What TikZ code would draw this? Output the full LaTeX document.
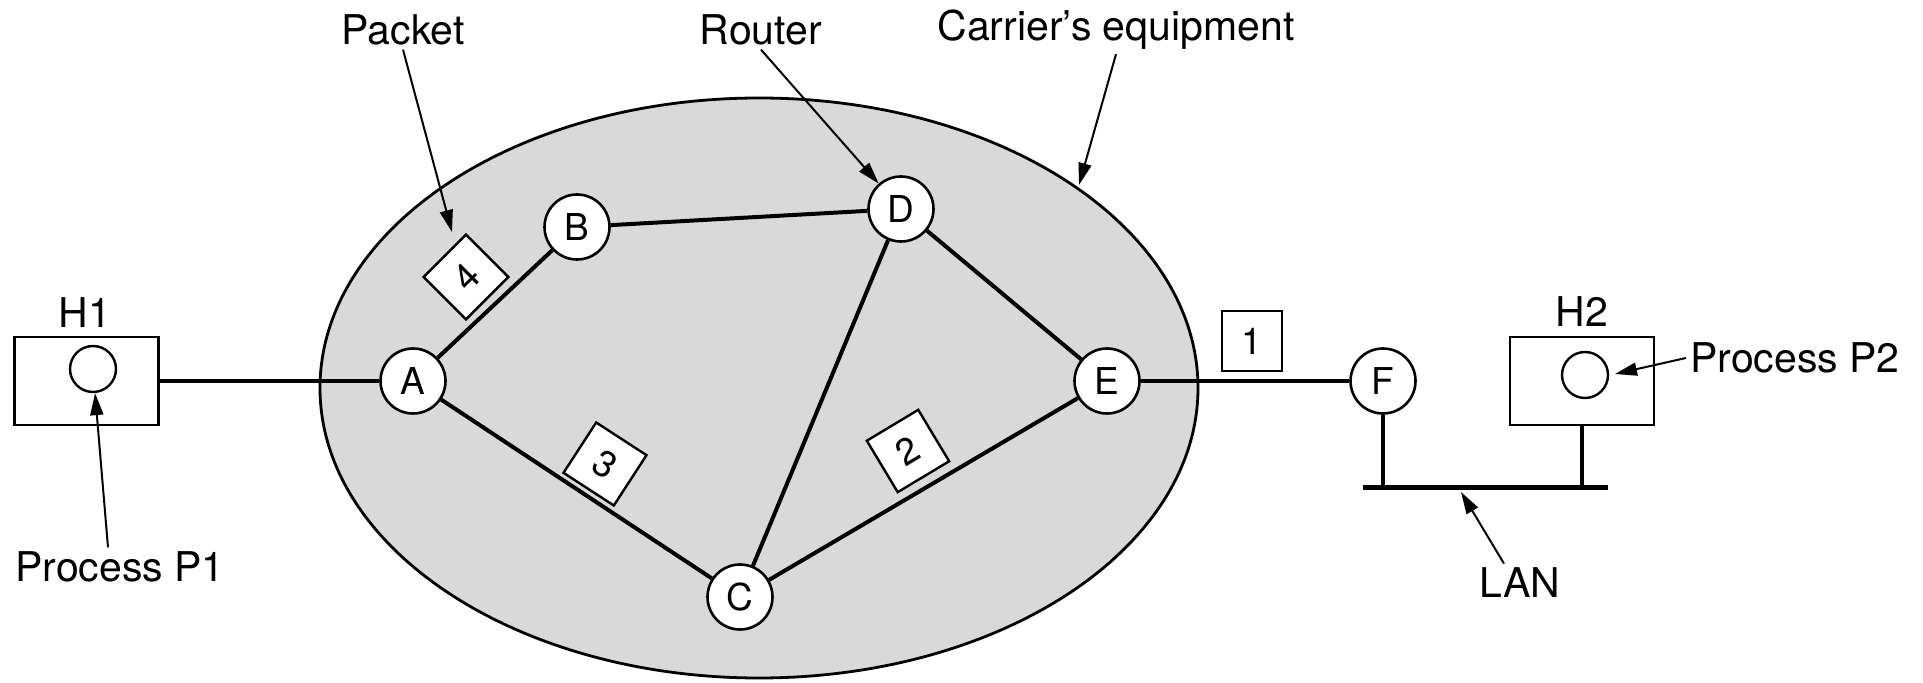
\documentclass[tikz,border=0pt]{standalone}
\usepackage{fontspec}
\setmainfont{TeX Gyre Heros}
\usetikzlibrary{arrows.meta}
\definecolor{cloudgray}{RGB}{217,217,217}
\begin{document}
\begin{tikzpicture}[x=0.5pt,y=-0.5pt,
  router/.style={circle,draw,line width=1.3pt,fill=white,minimum size=32.5pt,inner sep=0pt,font=\fontsize{18.5}{20}\selectfont},
  pkt/.style={rectangle,draw,line width=1.2pt,fill=white,minimum size=30pt,inner sep=0pt,font=\fontsize{18.5}{20}\selectfont},
  lbl/.style={inner sep=2pt,font=\fontsize{20.5}{22}\selectfont},
  link/.style={line width=2pt},
  arr/.style={line width=1pt,-{Triangle[length=11pt,width=6.5pt]}},
  host/.style={rectangle,draw,line width=1.2pt,minimum width=72pt,minimum height=44pt,inner sep=0pt},
  proc/.style={circle,draw,line width=1.2pt,minimum size=23pt,inner sep=0pt}]
\useasboundingbox (0,0) rectangle (1923,683);
% carrier cloud
\draw[line width=1.4pt,fill=cloudgray] (759,388) ellipse [x radius=219.5pt, y radius=145pt];
% routers
\node[router] (A) at (413,381) {A};
\node[router] (B) at (577,227) {B};
\node[router] (D) at (901,209) {D};
\node[router] (E) at (1107,381) {E};
\node[router] (C) at (740,597) {C};
\node[router] (F) at (1383,381) {F};
% hosts
\node[host] (h1) at (86.5,381) {};
\node[proc] (c1) at (93,369) {};
\node[lbl] (h1l) at (85,313) {H1};
\node[host] (h2) at (1582,381) {};
\node[proc] (c2) at (1585,375) {};
\node[lbl] (h2l) at (1582,312) {H2};
% links
\draw[link] (h1.east) -- (A);
\draw[link] (A) -- (B);
\draw[link] (B) -- (D);
\draw[link] (D) -- (C);
\draw[link] (D) -- (E);
\draw[link] (A) -- (C);
\draw[link] (C) -- (E);
\draw[link] (E) -- (F);
% LAN
\coordinate (busL) at (1363,488);
\coordinate (busR) at (1608,488);
\coordinate (busF) at (1383,488);
\coordinate (busH) at (1582,488);
\draw[line width=2.5pt] (busL) -- (busR);
\draw[link] (F.south) -- (busF);
\draw[link] (h2.south) -- (busH);
% packets
\node[pkt] (p1) at (1252,341) {1};
\node[pkt,rotate=31] (p2) at (908,451) {2};
\node[pkt,rotate=-33] (p3) at (605,464) {3};
\node[pkt,rotate=45] (p4) at (466,277) {4};
% labels
\node[lbl] (lpacket) at (403,30) {Packet};
\node[lbl] (lrouter) at (761,30) {Router};
\node[lbl] (lcarrier) at (1116,30) {Carrier's equipment};
\node[lbl] (lp1) at (120,567) {Process P1};
\node[lbl] (lp2) at (1795,358) {Process P2};
\node[lbl] (llan) at (1520,583) {LAN};
% pointer arrows
\coordinate (pk4tip) at (452,232);
\coordinate (elltip) at (1079,185);
\coordinate (lantip) at (1461,492);
\coordinate (c2tip) at (1615,374);
\draw[arr] (lpacket.south) -- (pk4tip);
\draw[arr] (lrouter.south) -- (D);
\draw[arr] (lcarrier.south) -- (elltip);
\draw[arr] ([xshift=-6pt]lp1.north) -- (c1);
\draw[arr] (lp2.west) -- (c2tip);
\draw[arr] ([xshift=-8pt]llan.north) -- (lantip);
\end{tikzpicture}
\end{document}
